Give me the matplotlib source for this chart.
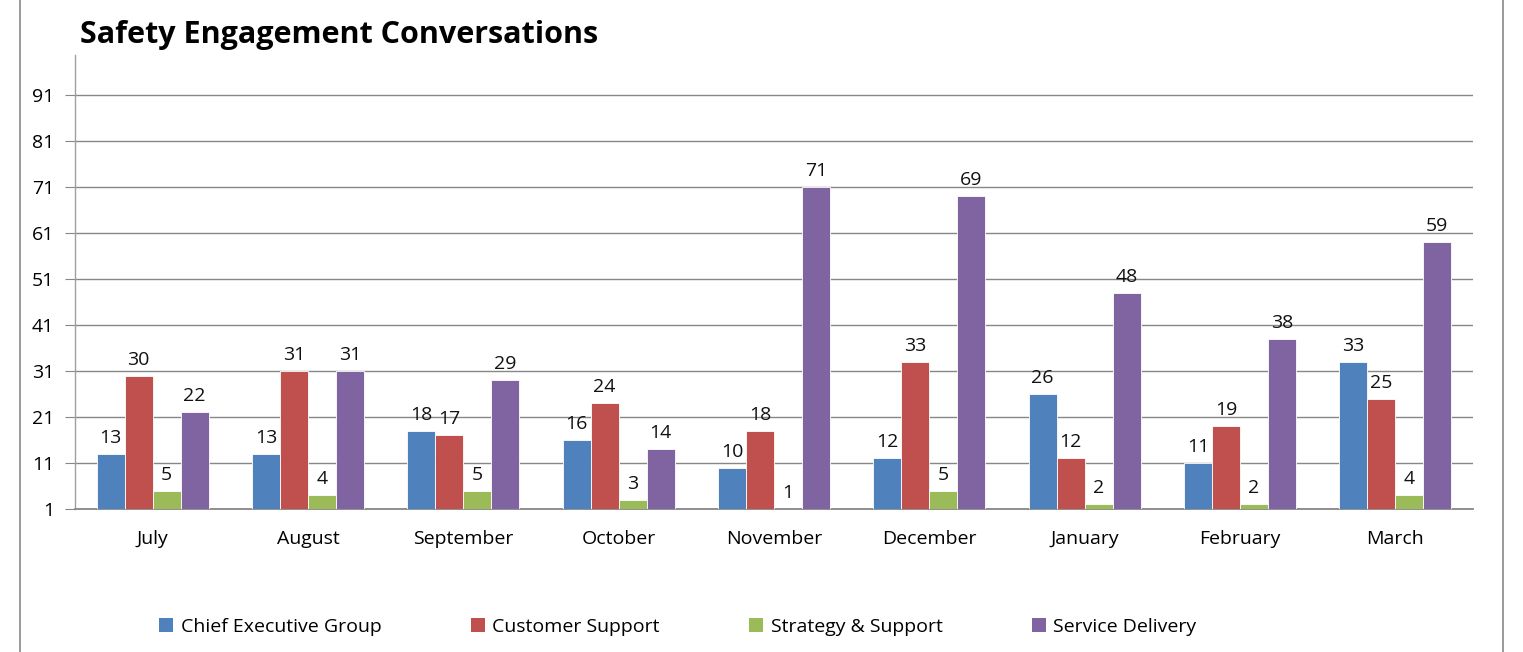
#!/usr/bin/env python3
# -*- coding: utf-8 -*-
import matplotlib.pyplot as plt
from matplotlib.lines import Line2D
from matplotlib.patches import Patch
import numpy as np

months = ["July", "August", "September", "October", "November", "December",
          "January", "February", "March"]
series = ["Chief Executive Group", "Customer Support", "Strategy & Support", "Service Delivery"]
chief_exec = [13, 13, 18, 16, 10, 12, 26, 11, 33]
customer_support = [30, 31, 17, 24, 18, 33, 12, 19, 25]
strategy_support = [5, 4, 5, 3, 1, 5, 2, 2, 4]
service_delivery = [22, 31, 29, 14, 71, 69, 48, 38, 59]
yticks = [1, 11, 21, 31, 41, 51, 61, 71, 81, 91]

colors = ["#4F81BD", "#C0504D", "#9BBB59", "#8064A2"]

plt.rcParams['font.family'] = ['Open Sans', 'DejaVu Sans']

fig = plt.figure(figsize=(15.23, 6.52), dpi=100)
ax = fig.add_axes([75 / 1523, 1 - 509 / 652, 1398 / 1523, 454 / 652])

x = np.arange(len(months))
width = 0.18
data = [chief_exec, customer_support, strategy_support, service_delivery]
for i, (vals, col) in enumerate(zip(data, colors)):
    pos = x + (i - 1.5) * width
    ax.bar(pos, vals, width, color=col, edgecolor="white", linewidth=0.6, zorder=3)
    for p, v in zip(pos, vals):
        ax.annotate(str(v), (p, v), xytext=(0, 5), textcoords="offset points",
                    ha="center", va="bottom", fontsize=14, color="#111111")

ax.set_xlim(-0.5, len(months) - 0.5)
ax.set_ylim(1, 99.7)
ax.set_yticks(yticks)
ax.set_xticks(x)
ax.set_xticklabels(months, fontsize=14)
ax.tick_params(axis="x", length=0, pad=15)
ax.tick_params(axis="y", labelsize=14, length=7, color="#878787", pad=8)
ax.yaxis.grid(True, color="#878787", linewidth=1, zorder=0)
for s in ["top", "right"]:
    ax.spines[s].set_visible(False)
ax.spines["left"].set_color("#a0a0a0")
ax.spines["bottom"].set_color("#878787")
ax.spines["left"].set_linewidth(1)
ax.spines["bottom"].set_linewidth(1.3)

fig.text(80 / 1523, 1 - 31 / 652, "Safety Engagement Conversations", fontsize=22,
         fontweight="bold", ha="left", va="center_baseline")

handles = [Patch(facecolor=c, edgecolor="none") for c in colors]
fig.legend(handles, series, loc="center", bbox_to_anchor=(678 / 1523, 1 - 627 / 652),
           ncol=4, frameon=False, fontsize=14, handlelength=0.7, handleheight=0.7,
           handletextpad=0.4, columnspacing=4.6)

# chart area border
for xx in [20 / 1523, 1503 / 1523]:
    fig.add_artist(Line2D([xx, xx], [0, 1], color="#878787", linewidth=1.2))

fig.savefig("out.png", dpi=100)
